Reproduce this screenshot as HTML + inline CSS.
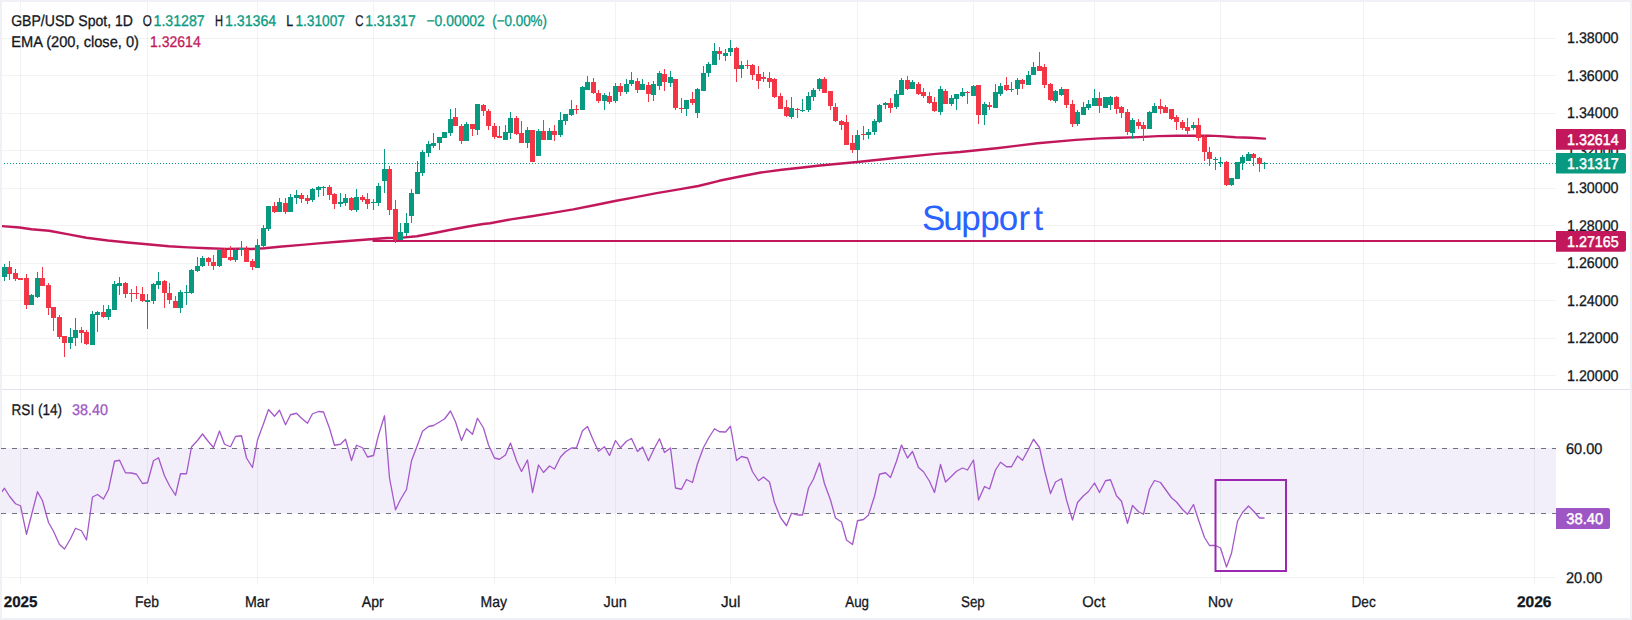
<!DOCTYPE html>
<html lang="en"><head><meta charset="utf-8"><title>GBP/USD Spot, 1D</title>
<style>html,body{margin:0;padding:0;background:#fff}body{width:1632px;height:620px;overflow:hidden}svg{display:block}</style></head>
<body>
<svg width="1632" height="620" viewBox="0 0 1632 620" font-family="'Liberation Sans', sans-serif" font-size="15.5" text-rendering="geometricPrecision">
<rect width="1632" height="620" fill="#eff1f6"/>
<rect x="2" y="2" width="1628" height="616" fill="#ffffff"/>
<rect x="2" y="448" width="1554" height="65.5" fill="#f2eefa"/>
<g fill="#2a2e39" fill-opacity="0.058" shape-rendering="crispEdges">
<rect x="2" y="38" width="1554" height="1"/>
<rect x="2" y="75" width="1554" height="1"/>
<rect x="2" y="113" width="1554" height="1"/>
<rect x="2" y="150" width="1554" height="1"/>
<rect x="2" y="188" width="1554" height="1"/>
<rect x="2" y="225" width="1554" height="1"/>
<rect x="2" y="263" width="1554" height="1"/>
<rect x="2" y="300" width="1554" height="1"/>
<rect x="2" y="338" width="1554" height="1"/>
<rect x="2" y="375" width="1554" height="1"/>
<rect x="2" y="577" width="1554" height="1"/>
<rect x="20" y="2" width="1" height="582"/>
<rect x="147" y="2" width="1" height="582"/>
<rect x="257" y="2" width="1" height="582"/>
<rect x="373" y="2" width="1" height="582"/>
<rect x="494" y="2" width="1" height="582"/>
<rect x="615" y="2" width="1" height="582"/>
<rect x="730" y="2" width="1" height="582"/>
<rect x="857" y="2" width="1" height="582"/>
<rect x="973" y="2" width="1" height="582"/>
<rect x="1094" y="2" width="1" height="582"/>
<rect x="1220" y="2" width="1" height="582"/>
<rect x="1363" y="2" width="1" height="582"/>
<rect x="1534" y="2" width="1" height="582"/>
</g>
<rect x="2" y="389" width="1628" height="1" fill="#e0e3eb" shape-rendering="crispEdges"/>
<line x1="1" y1="448.5" x2="1556" y2="448.5" stroke="#6f727d" stroke-width="1" stroke-dasharray="5 6" shape-rendering="crispEdges"/>
<line x1="1" y1="513.5" x2="1556" y2="513.5" stroke="#6f727d" stroke-width="1" stroke-dasharray="5 6" shape-rendering="crispEdges"/>
<line x1="4" y1="163.5" x2="1556" y2="163.5" stroke="#089981" stroke-width="1" stroke-dasharray="1 2" shape-rendering="crispEdges"/>
<clipPath id="cm"><rect x="2" y="2" width="1554" height="387"/></clipPath>
<polyline clip-path="url(#cm)" fill="none" stroke="#c2185b" stroke-width="2.4" stroke-linejoin="round" stroke-linecap="round" points="2.0,226.1 19.6,227.5 31.4,229.2 49.0,230.7 68.6,234.4 86.3,237.7 107.8,240.5 127.5,242.5 147.0,244.2 168.7,246.2 188.0,247.4 207.4,248.3 226.8,248.9 240.0,248.7 251.8,249.0 264.5,248.3 279.2,246.8 298.8,245.1 318.4,243.4 338.0,241.7 357.6,240.2 377.3,238.7 387.0,238.0 402.3,237.6 416.8,236.3 434.5,233.0 450.6,229.8 466.8,226.8 483.0,224.0 490.0,223.3 510.8,219.4 531.7,216.2 552.5,212.9 573.3,209.4 594.2,205.2 615.0,201.0 635.8,197.1 656.7,193.1 677.5,189.6 698.3,186.0 719.2,180.8 740.0,176.5 760.8,172.5 781.7,169.8 802.5,167.5 820.0,165.5 857.4,162.0 897.4,157.8 936.1,153.9 960.0,152.0 998.7,148.0 1037.4,143.3 1076.1,139.9 1100.0,138.4 1119.4,137.7 1138.7,137.1 1158.0,136.1 1177.4,135.7 1196.8,135.7 1208.4,135.6 1220.0,136.1 1235.5,137.2 1251.0,137.8 1265.0,138.6"/>
<rect x="372.5" y="240" width="1183.5" height="2" fill="#c2185b"/>
<g shape-rendering="crispEdges">
<rect x="4" y="264" width="1" height="17" fill="#089981"/>
<rect x="2" y="267" width="5" height="10" fill="#089981"/>
<rect x="9" y="261" width="1" height="19" fill="#f23645"/>
<rect x="7" y="267" width="5" height="7" fill="#f23645"/>
<rect x="15" y="269" width="1" height="12" fill="#f23645"/>
<rect x="13" y="273" width="5" height="6" fill="#f23645"/>
<rect x="20" y="278" width="1" height="2" fill="#f23645"/>
<rect x="18" y="278" width="5" height="2" fill="#f23645"/>
<rect x="26" y="274" width="1" height="35" fill="#f23645"/>
<rect x="24" y="278" width="5" height="27" fill="#f23645"/>
<rect x="31" y="294" width="1" height="11" fill="#089981"/>
<rect x="29" y="295" width="5" height="10" fill="#089981"/>
<rect x="37" y="272" width="1" height="26" fill="#089981"/>
<rect x="35" y="278" width="5" height="19" fill="#089981"/>
<rect x="42" y="267" width="1" height="19" fill="#f23645"/>
<rect x="40" y="278" width="5" height="8" fill="#f23645"/>
<rect x="48" y="283" width="1" height="32" fill="#f23645"/>
<rect x="46" y="285" width="5" height="23" fill="#f23645"/>
<rect x="53" y="307" width="1" height="24" fill="#f23645"/>
<rect x="51" y="307" width="5" height="11" fill="#f23645"/>
<rect x="59" y="315" width="1" height="24" fill="#f23645"/>
<rect x="57" y="317" width="5" height="20" fill="#f23645"/>
<rect x="64" y="336" width="1" height="21" fill="#f23645"/>
<rect x="62" y="336" width="5" height="7" fill="#f23645"/>
<rect x="70" y="328" width="1" height="21" fill="#089981"/>
<rect x="68" y="337" width="5" height="6" fill="#089981"/>
<rect x="75" y="318" width="1" height="28" fill="#089981"/>
<rect x="73" y="330" width="5" height="8" fill="#089981"/>
<rect x="81" y="327" width="1" height="16" fill="#f23645"/>
<rect x="79" y="330" width="5" height="3" fill="#f23645"/>
<rect x="86" y="330" width="1" height="15" fill="#f23645"/>
<rect x="84" y="332" width="5" height="12" fill="#f23645"/>
<rect x="92" y="311" width="1" height="34" fill="#089981"/>
<rect x="90" y="314" width="5" height="31" fill="#089981"/>
<rect x="97" y="311" width="1" height="21" fill="#089981"/>
<rect x="95" y="312" width="5" height="3" fill="#089981"/>
<rect x="103" y="305" width="1" height="13" fill="#f23645"/>
<rect x="101" y="312" width="5" height="5" fill="#f23645"/>
<rect x="108" y="305" width="1" height="15" fill="#089981"/>
<rect x="106" y="309" width="5" height="8" fill="#089981"/>
<rect x="114" y="281" width="1" height="29" fill="#089981"/>
<rect x="112" y="284" width="5" height="26" fill="#089981"/>
<rect x="119" y="277" width="1" height="18" fill="#089981"/>
<rect x="117" y="283" width="5" height="3" fill="#089981"/>
<rect x="125" y="282" width="1" height="16" fill="#f23645"/>
<rect x="123" y="283" width="5" height="11" fill="#f23645"/>
<rect x="131" y="289" width="1" height="13" fill="#f23645"/>
<rect x="129" y="293" width="5" height="1" fill="#f23645"/>
<rect x="136" y="286" width="1" height="13" fill="#f23645"/>
<rect x="134" y="293" width="5" height="1" fill="#f23645"/>
<rect x="142" y="287" width="1" height="15" fill="#f23645"/>
<rect x="140" y="294" width="5" height="7" fill="#f23645"/>
<rect x="147" y="294" width="1" height="35" fill="#089981"/>
<rect x="145" y="300" width="5" height="2" fill="#089981"/>
<rect x="153" y="283" width="1" height="21" fill="#089981"/>
<rect x="151" y="284" width="5" height="17" fill="#089981"/>
<rect x="158" y="272" width="1" height="17" fill="#089981"/>
<rect x="156" y="281" width="5" height="4" fill="#089981"/>
<rect x="164" y="280" width="1" height="28" fill="#f23645"/>
<rect x="162" y="281" width="5" height="12" fill="#f23645"/>
<rect x="169" y="283" width="1" height="21" fill="#f23645"/>
<rect x="167" y="293" width="5" height="7" fill="#f23645"/>
<rect x="175" y="296" width="1" height="12" fill="#f23645"/>
<rect x="173" y="301" width="5" height="7" fill="#f23645"/>
<rect x="180" y="290" width="1" height="23" fill="#089981"/>
<rect x="178" y="292" width="5" height="16" fill="#089981"/>
<rect x="186" y="285" width="1" height="20" fill="#089981"/>
<rect x="184" y="292" width="5" height="1" fill="#089981"/>
<rect x="191" y="269" width="1" height="25" fill="#089981"/>
<rect x="189" y="270" width="5" height="23" fill="#089981"/>
<rect x="197" y="257" width="1" height="15" fill="#089981"/>
<rect x="195" y="266" width="5" height="5" fill="#089981"/>
<rect x="202" y="256" width="1" height="11" fill="#089981"/>
<rect x="200" y="258" width="5" height="8" fill="#089981"/>
<rect x="208" y="257" width="1" height="9" fill="#f23645"/>
<rect x="206" y="258" width="5" height="4" fill="#f23645"/>
<rect x="213" y="255" width="1" height="15" fill="#f23645"/>
<rect x="211" y="262" width="5" height="4" fill="#f23645"/>
<rect x="219" y="250" width="1" height="17" fill="#089981"/>
<rect x="217" y="250" width="5" height="16" fill="#089981"/>
<rect x="224" y="248" width="1" height="10" fill="#f23645"/>
<rect x="222" y="250" width="5" height="8" fill="#f23645"/>
<rect x="230" y="246" width="1" height="15" fill="#f23645"/>
<rect x="228" y="257" width="5" height="3" fill="#f23645"/>
<rect x="235" y="248" width="1" height="14" fill="#089981"/>
<rect x="233" y="250" width="5" height="10" fill="#089981"/>
<rect x="241" y="241" width="1" height="15" fill="#089981"/>
<rect x="239" y="248" width="5" height="2" fill="#089981"/>
<rect x="246" y="246" width="1" height="16" fill="#f23645"/>
<rect x="244" y="249" width="5" height="13" fill="#f23645"/>
<rect x="252" y="259" width="1" height="11" fill="#f23645"/>
<rect x="250" y="261" width="5" height="6" fill="#f23645"/>
<rect x="257" y="239" width="1" height="29" fill="#089981"/>
<rect x="255" y="245" width="5" height="23" fill="#089981"/>
<rect x="263" y="225" width="1" height="23" fill="#089981"/>
<rect x="261" y="228" width="5" height="18" fill="#089981"/>
<rect x="268" y="206" width="1" height="25" fill="#089981"/>
<rect x="266" y="206" width="5" height="23" fill="#089981"/>
<rect x="274" y="202" width="1" height="11" fill="#f23645"/>
<rect x="272" y="206" width="5" height="6" fill="#f23645"/>
<rect x="279" y="198" width="1" height="14" fill="#089981"/>
<rect x="277" y="202" width="5" height="10" fill="#089981"/>
<rect x="285" y="198" width="1" height="16" fill="#f23645"/>
<rect x="283" y="203" width="5" height="9" fill="#f23645"/>
<rect x="290" y="194" width="1" height="18" fill="#089981"/>
<rect x="288" y="197" width="5" height="15" fill="#089981"/>
<rect x="296" y="190" width="1" height="14" fill="#089981"/>
<rect x="294" y="195" width="5" height="3" fill="#089981"/>
<rect x="301" y="193" width="1" height="10" fill="#f23645"/>
<rect x="299" y="195" width="5" height="4" fill="#f23645"/>
<rect x="307" y="195" width="1" height="9" fill="#f23645"/>
<rect x="305" y="198" width="5" height="3" fill="#f23645"/>
<rect x="312" y="188" width="1" height="14" fill="#089981"/>
<rect x="310" y="189" width="5" height="11" fill="#089981"/>
<rect x="318" y="186" width="1" height="11" fill="#089981"/>
<rect x="316" y="187" width="5" height="3" fill="#089981"/>
<rect x="323" y="186" width="1" height="10" fill="#089981"/>
<rect x="321" y="187" width="5" height="1" fill="#089981"/>
<rect x="329" y="185" width="1" height="15" fill="#f23645"/>
<rect x="327" y="187" width="5" height="8" fill="#f23645"/>
<rect x="334" y="193" width="1" height="16" fill="#f23645"/>
<rect x="332" y="194" width="5" height="10" fill="#f23645"/>
<rect x="340" y="193" width="1" height="14" fill="#089981"/>
<rect x="338" y="202" width="5" height="2" fill="#089981"/>
<rect x="345" y="194" width="1" height="12" fill="#089981"/>
<rect x="343" y="198" width="5" height="5" fill="#089981"/>
<rect x="351" y="197" width="1" height="14" fill="#f23645"/>
<rect x="349" y="198" width="5" height="12" fill="#f23645"/>
<rect x="356" y="189" width="1" height="23" fill="#089981"/>
<rect x="354" y="197" width="5" height="13" fill="#089981"/>
<rect x="362" y="195" width="1" height="7" fill="#f23645"/>
<rect x="360" y="197" width="5" height="3" fill="#f23645"/>
<rect x="367" y="193" width="1" height="16" fill="#f23645"/>
<rect x="365" y="199" width="5" height="5" fill="#f23645"/>
<rect x="373" y="199" width="1" height="11" fill="#089981"/>
<rect x="371" y="202" width="5" height="1" fill="#089981"/>
<rect x="378" y="183" width="1" height="23" fill="#089981"/>
<rect x="376" y="186" width="5" height="17" fill="#089981"/>
<rect x="384" y="149" width="1" height="44" fill="#089981"/>
<rect x="382" y="169" width="5" height="12" fill="#089981"/>
<rect x="389" y="166" width="1" height="49" fill="#f23645"/>
<rect x="387" y="169" width="5" height="41" fill="#f23645"/>
<rect x="395" y="200" width="1" height="43" fill="#f23645"/>
<rect x="393" y="209" width="5" height="31" fill="#f23645"/>
<rect x="400" y="223" width="1" height="17" fill="#089981"/>
<rect x="398" y="232" width="5" height="8" fill="#089981"/>
<rect x="406" y="213" width="1" height="23" fill="#089981"/>
<rect x="404" y="223" width="5" height="10" fill="#089981"/>
<rect x="411" y="189" width="1" height="34" fill="#089981"/>
<rect x="409" y="193" width="5" height="23" fill="#089981"/>
<rect x="417" y="161" width="1" height="33" fill="#089981"/>
<rect x="415" y="172" width="5" height="22" fill="#089981"/>
<rect x="422" y="150" width="1" height="26" fill="#089981"/>
<rect x="420" y="152" width="5" height="21" fill="#089981"/>
<rect x="428" y="141" width="1" height="16" fill="#089981"/>
<rect x="426" y="144" width="5" height="9" fill="#089981"/>
<rect x="433" y="133" width="1" height="15" fill="#089981"/>
<rect x="431" y="143" width="5" height="3" fill="#089981"/>
<rect x="439" y="137" width="1" height="13" fill="#089981"/>
<rect x="437" y="137" width="5" height="6" fill="#089981"/>
<rect x="444" y="132" width="1" height="6" fill="#089981"/>
<rect x="442" y="132" width="5" height="6" fill="#089981"/>
<rect x="450" y="109" width="1" height="27" fill="#089981"/>
<rect x="448" y="119" width="5" height="14" fill="#089981"/>
<rect x="455" y="108" width="1" height="18" fill="#f23645"/>
<rect x="453" y="117" width="5" height="9" fill="#f23645"/>
<rect x="461" y="124" width="1" height="20" fill="#f23645"/>
<rect x="459" y="126" width="5" height="15" fill="#f23645"/>
<rect x="466" y="122" width="1" height="19" fill="#089981"/>
<rect x="464" y="124" width="5" height="17" fill="#089981"/>
<rect x="472" y="124" width="1" height="12" fill="#f23645"/>
<rect x="470" y="124" width="5" height="5" fill="#f23645"/>
<rect x="477" y="104" width="1" height="31" fill="#089981"/>
<rect x="475" y="104" width="5" height="26" fill="#089981"/>
<rect x="483" y="104" width="1" height="12" fill="#f23645"/>
<rect x="481" y="105" width="5" height="6" fill="#f23645"/>
<rect x="488" y="109" width="1" height="21" fill="#f23645"/>
<rect x="486" y="111" width="5" height="15" fill="#f23645"/>
<rect x="494" y="123" width="1" height="16" fill="#f23645"/>
<rect x="492" y="126" width="5" height="11" fill="#f23645"/>
<rect x="499" y="126" width="1" height="12" fill="#f23645"/>
<rect x="497" y="136" width="5" height="2" fill="#f23645"/>
<rect x="505" y="125" width="1" height="15" fill="#089981"/>
<rect x="503" y="132" width="5" height="8" fill="#089981"/>
<rect x="510" y="112" width="1" height="27" fill="#089981"/>
<rect x="508" y="118" width="5" height="15" fill="#089981"/>
<rect x="516" y="116" width="1" height="19" fill="#f23645"/>
<rect x="514" y="118" width="5" height="16" fill="#f23645"/>
<rect x="521" y="121" width="1" height="22" fill="#f23645"/>
<rect x="519" y="133" width="5" height="10" fill="#f23645"/>
<rect x="527" y="127" width="1" height="21" fill="#089981"/>
<rect x="525" y="130" width="5" height="13" fill="#089981"/>
<rect x="532" y="130" width="1" height="32" fill="#f23645"/>
<rect x="530" y="130" width="5" height="32" fill="#f23645"/>
<rect x="538" y="129" width="1" height="27" fill="#089981"/>
<rect x="536" y="131" width="5" height="25" fill="#089981"/>
<rect x="543" y="120" width="1" height="20" fill="#f23645"/>
<rect x="541" y="131" width="5" height="9" fill="#f23645"/>
<rect x="549" y="128" width="1" height="12" fill="#089981"/>
<rect x="547" y="131" width="5" height="9" fill="#089981"/>
<rect x="554" y="125" width="1" height="16" fill="#f23645"/>
<rect x="552" y="131" width="5" height="4" fill="#f23645"/>
<rect x="560" y="112" width="1" height="25" fill="#089981"/>
<rect x="558" y="120" width="5" height="15" fill="#089981"/>
<rect x="565" y="114" width="1" height="11" fill="#089981"/>
<rect x="563" y="114" width="5" height="7" fill="#089981"/>
<rect x="571" y="100" width="1" height="16" fill="#089981"/>
<rect x="569" y="109" width="5" height="6" fill="#089981"/>
<rect x="576" y="105" width="1" height="9" fill="#f23645"/>
<rect x="574" y="109" width="5" height="1" fill="#f23645"/>
<rect x="582" y="86" width="1" height="24" fill="#089981"/>
<rect x="580" y="87" width="5" height="23" fill="#089981"/>
<rect x="587" y="76" width="1" height="14" fill="#089981"/>
<rect x="585" y="82" width="5" height="8" fill="#089981"/>
<rect x="593" y="78" width="1" height="16" fill="#f23645"/>
<rect x="591" y="82" width="5" height="11" fill="#f23645"/>
<rect x="598" y="90" width="1" height="13" fill="#f23645"/>
<rect x="596" y="93" width="5" height="8" fill="#f23645"/>
<rect x="604" y="93" width="1" height="17" fill="#089981"/>
<rect x="602" y="95" width="5" height="6" fill="#089981"/>
<rect x="609" y="92" width="1" height="12" fill="#f23645"/>
<rect x="607" y="96" width="5" height="6" fill="#f23645"/>
<rect x="615" y="83" width="1" height="20" fill="#089981"/>
<rect x="613" y="86" width="5" height="15" fill="#089981"/>
<rect x="620" y="83" width="1" height="13" fill="#f23645"/>
<rect x="618" y="86" width="5" height="6" fill="#f23645"/>
<rect x="626" y="79" width="1" height="15" fill="#089981"/>
<rect x="624" y="84" width="5" height="8" fill="#089981"/>
<rect x="631" y="72" width="1" height="14" fill="#089981"/>
<rect x="629" y="80" width="5" height="4" fill="#089981"/>
<rect x="637" y="78" width="1" height="15" fill="#f23645"/>
<rect x="635" y="81" width="5" height="9" fill="#f23645"/>
<rect x="642" y="79" width="1" height="11" fill="#089981"/>
<rect x="640" y="84" width="5" height="6" fill="#089981"/>
<rect x="648" y="82" width="1" height="20" fill="#f23645"/>
<rect x="646" y="85" width="5" height="9" fill="#f23645"/>
<rect x="653" y="81" width="1" height="20" fill="#089981"/>
<rect x="651" y="84" width="5" height="11" fill="#089981"/>
<rect x="659" y="71" width="1" height="19" fill="#089981"/>
<rect x="657" y="73" width="5" height="13" fill="#089981"/>
<rect x="664" y="69" width="1" height="22" fill="#f23645"/>
<rect x="662" y="74" width="5" height="8" fill="#f23645"/>
<rect x="670" y="71" width="1" height="16" fill="#089981"/>
<rect x="668" y="77" width="5" height="6" fill="#089981"/>
<rect x="675" y="79" width="1" height="31" fill="#f23645"/>
<rect x="673" y="79" width="5" height="29" fill="#f23645"/>
<rect x="681" y="98" width="1" height="15" fill="#f23645"/>
<rect x="679" y="108" width="5" height="1" fill="#f23645"/>
<rect x="686" y="100" width="1" height="16" fill="#089981"/>
<rect x="684" y="100" width="5" height="9" fill="#089981"/>
<rect x="692" y="92" width="1" height="13" fill="#f23645"/>
<rect x="690" y="99" width="5" height="4" fill="#f23645"/>
<rect x="697" y="88" width="1" height="30" fill="#089981"/>
<rect x="695" y="89" width="5" height="24" fill="#089981"/>
<rect x="703" y="66" width="1" height="25" fill="#089981"/>
<rect x="701" y="73" width="5" height="18" fill="#089981"/>
<rect x="708" y="62" width="1" height="15" fill="#089981"/>
<rect x="706" y="64" width="5" height="9" fill="#089981"/>
<rect x="714" y="43" width="1" height="22" fill="#089981"/>
<rect x="712" y="51" width="5" height="14" fill="#089981"/>
<rect x="719" y="47" width="1" height="13" fill="#f23645"/>
<rect x="717" y="51" width="5" height="3" fill="#f23645"/>
<rect x="725" y="49" width="1" height="12" fill="#089981"/>
<rect x="723" y="53" width="5" height="3" fill="#089981"/>
<rect x="730" y="40" width="1" height="16" fill="#089981"/>
<rect x="728" y="48" width="5" height="4" fill="#089981"/>
<rect x="736" y="47" width="1" height="35" fill="#f23645"/>
<rect x="734" y="48" width="5" height="21" fill="#f23645"/>
<rect x="741" y="61" width="1" height="17" fill="#089981"/>
<rect x="739" y="65" width="5" height="4" fill="#089981"/>
<rect x="747" y="60" width="1" height="9" fill="#f23645"/>
<rect x="745" y="65" width="5" height="1" fill="#f23645"/>
<rect x="752" y="64" width="1" height="16" fill="#f23645"/>
<rect x="750" y="65" width="5" height="10" fill="#f23645"/>
<rect x="758" y="66" width="1" height="23" fill="#f23645"/>
<rect x="756" y="74" width="5" height="7" fill="#f23645"/>
<rect x="763" y="72" width="1" height="10" fill="#f23645"/>
<rect x="761" y="77" width="5" height="2" fill="#f23645"/>
<rect x="769" y="72" width="1" height="16" fill="#f23645"/>
<rect x="767" y="78" width="5" height="4" fill="#f23645"/>
<rect x="774" y="78" width="1" height="20" fill="#f23645"/>
<rect x="772" y="79" width="5" height="18" fill="#f23645"/>
<rect x="780" y="93" width="1" height="16" fill="#f23645"/>
<rect x="778" y="96" width="5" height="13" fill="#f23645"/>
<rect x="786" y="100" width="1" height="17" fill="#f23645"/>
<rect x="784" y="107" width="5" height="9" fill="#f23645"/>
<rect x="791" y="97" width="1" height="22" fill="#089981"/>
<rect x="789" y="108" width="5" height="9" fill="#089981"/>
<rect x="797" y="108" width="1" height="10" fill="#f23645"/>
<rect x="795" y="109" width="5" height="1" fill="#f23645"/>
<rect x="802" y="99" width="1" height="13" fill="#089981"/>
<rect x="800" y="110" width="5" height="1" fill="#089981"/>
<rect x="808" y="92" width="1" height="20" fill="#089981"/>
<rect x="806" y="96" width="5" height="14" fill="#089981"/>
<rect x="813" y="88" width="1" height="13" fill="#089981"/>
<rect x="811" y="90" width="5" height="7" fill="#089981"/>
<rect x="819" y="78" width="1" height="13" fill="#089981"/>
<rect x="817" y="79" width="5" height="10" fill="#089981"/>
<rect x="824" y="77" width="1" height="16" fill="#f23645"/>
<rect x="822" y="79" width="5" height="14" fill="#f23645"/>
<rect x="830" y="91" width="1" height="19" fill="#f23645"/>
<rect x="828" y="91" width="5" height="15" fill="#f23645"/>
<rect x="835" y="103" width="1" height="19" fill="#f23645"/>
<rect x="833" y="107" width="5" height="14" fill="#f23645"/>
<rect x="841" y="120" width="1" height="10" fill="#f23645"/>
<rect x="839" y="121" width="5" height="4" fill="#f23645"/>
<rect x="846" y="115" width="1" height="30" fill="#f23645"/>
<rect x="844" y="122" width="5" height="23" fill="#f23645"/>
<rect x="852" y="135" width="1" height="18" fill="#f23645"/>
<rect x="850" y="143" width="5" height="7" fill="#f23645"/>
<rect x="857" y="130" width="1" height="31" fill="#089981"/>
<rect x="855" y="135" width="5" height="15" fill="#089981"/>
<rect x="863" y="126" width="1" height="14" fill="#f23645"/>
<rect x="861" y="134" width="5" height="1" fill="#f23645"/>
<rect x="868" y="129" width="1" height="10" fill="#089981"/>
<rect x="866" y="132" width="5" height="3" fill="#089981"/>
<rect x="874" y="119" width="1" height="16" fill="#089981"/>
<rect x="872" y="121" width="5" height="11" fill="#089981"/>
<rect x="879" y="104" width="1" height="19" fill="#089981"/>
<rect x="877" y="105" width="5" height="17" fill="#089981"/>
<rect x="885" y="102" width="1" height="7" fill="#089981"/>
<rect x="883" y="103" width="5" height="2" fill="#089981"/>
<rect x="890" y="98" width="1" height="15" fill="#f23645"/>
<rect x="888" y="103" width="5" height="5" fill="#f23645"/>
<rect x="896" y="90" width="1" height="19" fill="#089981"/>
<rect x="894" y="94" width="5" height="13" fill="#089981"/>
<rect x="901" y="78" width="1" height="17" fill="#089981"/>
<rect x="899" y="80" width="5" height="15" fill="#089981"/>
<rect x="907" y="76" width="1" height="14" fill="#f23645"/>
<rect x="905" y="80" width="5" height="9" fill="#f23645"/>
<rect x="912" y="80" width="1" height="9" fill="#089981"/>
<rect x="910" y="82" width="5" height="7" fill="#089981"/>
<rect x="918" y="82" width="1" height="13" fill="#f23645"/>
<rect x="916" y="84" width="5" height="10" fill="#f23645"/>
<rect x="923" y="88" width="1" height="10" fill="#f23645"/>
<rect x="921" y="92" width="5" height="4" fill="#f23645"/>
<rect x="929" y="92" width="1" height="12" fill="#f23645"/>
<rect x="927" y="96" width="5" height="7" fill="#f23645"/>
<rect x="934" y="97" width="1" height="15" fill="#f23645"/>
<rect x="932" y="102" width="5" height="9" fill="#f23645"/>
<rect x="940" y="86" width="1" height="29" fill="#089981"/>
<rect x="938" y="89" width="5" height="23" fill="#089981"/>
<rect x="945" y="89" width="1" height="15" fill="#f23645"/>
<rect x="943" y="91" width="5" height="13" fill="#f23645"/>
<rect x="951" y="95" width="1" height="11" fill="#089981"/>
<rect x="949" y="98" width="5" height="6" fill="#089981"/>
<rect x="956" y="94" width="1" height="16" fill="#089981"/>
<rect x="954" y="94" width="5" height="5" fill="#089981"/>
<rect x="962" y="88" width="1" height="9" fill="#089981"/>
<rect x="960" y="92" width="5" height="4" fill="#089981"/>
<rect x="967" y="91" width="1" height="13" fill="#f23645"/>
<rect x="965" y="92" width="5" height="1" fill="#f23645"/>
<rect x="973" y="85" width="1" height="11" fill="#089981"/>
<rect x="971" y="86" width="5" height="10" fill="#089981"/>
<rect x="978" y="85" width="1" height="39" fill="#f23645"/>
<rect x="976" y="85" width="5" height="30" fill="#f23645"/>
<rect x="984" y="102" width="1" height="23" fill="#089981"/>
<rect x="982" y="104" width="5" height="11" fill="#089981"/>
<rect x="989" y="102" width="1" height="8" fill="#f23645"/>
<rect x="987" y="105" width="5" height="2" fill="#f23645"/>
<rect x="995" y="84" width="1" height="24" fill="#089981"/>
<rect x="993" y="92" width="5" height="16" fill="#089981"/>
<rect x="1000" y="83" width="1" height="13" fill="#089981"/>
<rect x="998" y="86" width="5" height="8" fill="#089981"/>
<rect x="1006" y="77" width="1" height="14" fill="#f23645"/>
<rect x="1004" y="85" width="5" height="5" fill="#f23645"/>
<rect x="1011" y="82" width="1" height="10" fill="#089981"/>
<rect x="1009" y="89" width="5" height="1" fill="#089981"/>
<rect x="1017" y="78" width="1" height="17" fill="#089981"/>
<rect x="1015" y="80" width="5" height="9" fill="#089981"/>
<rect x="1022" y="79" width="1" height="10" fill="#f23645"/>
<rect x="1020" y="80" width="5" height="4" fill="#f23645"/>
<rect x="1028" y="71" width="1" height="14" fill="#089981"/>
<rect x="1026" y="75" width="5" height="10" fill="#089981"/>
<rect x="1033" y="62" width="1" height="13" fill="#089981"/>
<rect x="1031" y="67" width="5" height="8" fill="#089981"/>
<rect x="1039" y="52" width="1" height="19" fill="#f23645"/>
<rect x="1037" y="66" width="5" height="5" fill="#f23645"/>
<rect x="1044" y="64" width="1" height="24" fill="#f23645"/>
<rect x="1042" y="67" width="5" height="18" fill="#f23645"/>
<rect x="1050" y="83" width="1" height="18" fill="#f23645"/>
<rect x="1048" y="84" width="5" height="16" fill="#f23645"/>
<rect x="1055" y="90" width="1" height="13" fill="#089981"/>
<rect x="1053" y="91" width="5" height="10" fill="#089981"/>
<rect x="1061" y="87" width="1" height="9" fill="#089981"/>
<rect x="1059" y="89" width="5" height="6" fill="#089981"/>
<rect x="1066" y="89" width="1" height="19" fill="#f23645"/>
<rect x="1064" y="89" width="5" height="16" fill="#f23645"/>
<rect x="1072" y="100" width="1" height="27" fill="#f23645"/>
<rect x="1070" y="104" width="5" height="20" fill="#f23645"/>
<rect x="1077" y="110" width="1" height="16" fill="#089981"/>
<rect x="1075" y="112" width="5" height="12" fill="#089981"/>
<rect x="1083" y="102" width="1" height="13" fill="#089981"/>
<rect x="1081" y="107" width="5" height="8" fill="#089981"/>
<rect x="1088" y="100" width="1" height="10" fill="#089981"/>
<rect x="1086" y="104" width="5" height="4" fill="#089981"/>
<rect x="1094" y="89" width="1" height="17" fill="#089981"/>
<rect x="1092" y="98" width="5" height="8" fill="#089981"/>
<rect x="1099" y="92" width="1" height="21" fill="#f23645"/>
<rect x="1097" y="98" width="5" height="8" fill="#f23645"/>
<rect x="1105" y="97" width="1" height="11" fill="#089981"/>
<rect x="1103" y="97" width="5" height="11" fill="#089981"/>
<rect x="1110" y="96" width="1" height="14" fill="#089981"/>
<rect x="1108" y="97" width="5" height="8" fill="#089981"/>
<rect x="1116" y="96" width="1" height="18" fill="#f23645"/>
<rect x="1114" y="97" width="5" height="12" fill="#f23645"/>
<rect x="1121" y="106" width="1" height="12" fill="#f23645"/>
<rect x="1119" y="107" width="5" height="6" fill="#f23645"/>
<rect x="1127" y="109" width="1" height="26" fill="#f23645"/>
<rect x="1125" y="112" width="5" height="20" fill="#f23645"/>
<rect x="1132" y="118" width="1" height="21" fill="#089981"/>
<rect x="1130" y="120" width="5" height="13" fill="#089981"/>
<rect x="1138" y="119" width="1" height="10" fill="#f23645"/>
<rect x="1136" y="122" width="5" height="4" fill="#f23645"/>
<rect x="1143" y="122" width="1" height="19" fill="#f23645"/>
<rect x="1141" y="125" width="5" height="4" fill="#f23645"/>
<rect x="1149" y="111" width="1" height="18" fill="#089981"/>
<rect x="1147" y="112" width="5" height="17" fill="#089981"/>
<rect x="1154" y="103" width="1" height="10" fill="#089981"/>
<rect x="1152" y="106" width="5" height="7" fill="#089981"/>
<rect x="1160" y="99" width="1" height="15" fill="#f23645"/>
<rect x="1158" y="106" width="5" height="3" fill="#f23645"/>
<rect x="1165" y="105" width="1" height="8" fill="#f23645"/>
<rect x="1163" y="107" width="5" height="6" fill="#f23645"/>
<rect x="1171" y="109" width="1" height="11" fill="#f23645"/>
<rect x="1169" y="109" width="5" height="10" fill="#f23645"/>
<rect x="1176" y="115" width="1" height="15" fill="#f23645"/>
<rect x="1174" y="117" width="5" height="5" fill="#f23645"/>
<rect x="1182" y="120" width="1" height="10" fill="#f23645"/>
<rect x="1180" y="122" width="5" height="6" fill="#f23645"/>
<rect x="1187" y="118" width="1" height="16" fill="#f23645"/>
<rect x="1185" y="127" width="5" height="4" fill="#f23645"/>
<rect x="1193" y="122" width="1" height="8" fill="#089981"/>
<rect x="1191" y="125" width="5" height="3" fill="#089981"/>
<rect x="1198" y="118" width="1" height="23" fill="#f23645"/>
<rect x="1196" y="125" width="5" height="13" fill="#f23645"/>
<rect x="1204" y="135" width="1" height="26" fill="#f23645"/>
<rect x="1202" y="137" width="5" height="15" fill="#f23645"/>
<rect x="1209" y="147" width="1" height="19" fill="#f23645"/>
<rect x="1207" y="152" width="5" height="7" fill="#f23645"/>
<rect x="1215" y="157" width="1" height="13" fill="#089981"/>
<rect x="1213" y="159" width="5" height="1" fill="#089981"/>
<rect x="1220" y="157" width="1" height="10" fill="#089981"/>
<rect x="1218" y="162" width="5" height="1" fill="#089981"/>
<rect x="1226" y="161" width="1" height="25" fill="#f23645"/>
<rect x="1224" y="162" width="5" height="23" fill="#f23645"/>
<rect x="1231" y="178" width="1" height="8" fill="#089981"/>
<rect x="1229" y="178" width="5" height="7" fill="#089981"/>
<rect x="1237" y="162" width="1" height="17" fill="#089981"/>
<rect x="1235" y="162" width="5" height="17" fill="#089981"/>
<rect x="1242" y="155" width="1" height="15" fill="#089981"/>
<rect x="1240" y="157" width="5" height="6" fill="#089981"/>
<rect x="1248" y="152" width="1" height="9" fill="#089981"/>
<rect x="1246" y="154" width="5" height="7" fill="#089981"/>
<rect x="1253" y="153" width="1" height="13" fill="#f23645"/>
<rect x="1251" y="154" width="5" height="4" fill="#f23645"/>
<rect x="1259" y="157" width="1" height="15" fill="#f23645"/>
<rect x="1257" y="158" width="5" height="6" fill="#f23645"/>
<rect x="1264" y="162" width="1" height="7" fill="#089981"/>
<rect x="1262" y="163" width="5" height="1" fill="#089981"/>
</g>
<text x="921.9 943.2 961.2 980.2 998.8 1018.6 1033.4" y="230" font-size="35" fill="#2962ff">Support</text>
<clipPath id="cp"><rect x="2" y="390" width="1554" height="194"/></clipPath>
<polyline clip-path="url(#cp)" fill="none" stroke="#a458c9" stroke-width="1.3" stroke-linejoin="round" points="-1.5,496.25 4.5,488.25 9.5,496.25 15.5,503.75 20.5,505.75 26.5,534.25 31.5,515.00 37.5,491.75 42.5,500.75 48.5,522.50 53.5,531.25 59.5,544.50 64.5,549.00 70.5,538.75 75.5,528.25 81.5,530.75 86.5,540.00 92.5,497.00 97.5,494.50 103.5,499.00 108.5,489.50 114.5,461.25 119.5,460.25 125.5,472.75 131.5,473.00 136.5,474.25 142.5,483.50 147.5,482.75 153.5,460.75 158.5,457.75 164.5,475.75 169.5,485.75 175.5,495.25 180.5,473.75 186.5,473.75 191.5,447.00 197.5,440.50 202.5,434.00 208.5,441.75 213.5,447.50 219.5,431.00 224.5,444.25 230.5,446.75 235.5,436.50 241.5,435.75 246.5,458.00 252.5,467.50 257.5,440.00 263.5,423.75 268.5,409.50 274.5,416.25 279.5,410.25 285.5,424.75 290.5,414.75 296.5,413.25 301.5,418.25 307.5,423.25 312.5,413.75 318.5,411.50 323.5,412.00 329.5,428.25 334.5,445.25 340.5,444.25 345.5,439.25 351.5,460.50 356.5,445.25 362.5,447.75 367.5,457.00 373.5,455.50 378.5,435.00 384.5,415.75 389.5,478.00 395.5,509.75 400.5,499.50 406.5,489.50 411.5,460.75 417.5,445.00 422.5,431.25 428.5,426.50 433.5,425.50 439.5,422.00 444.5,419.00 450.5,411.00 455.5,421.75 461.5,440.50 466.5,428.75 472.5,434.25 477.5,418.25 483.5,428.00 488.5,445.00 494.5,458.00 499.5,459.25 505.5,455.00 510.5,443.00 516.5,460.75 521.5,471.50 527.5,460.00 532.5,492.50 538.5,465.00 543.5,472.50 549.5,466.00 554.5,469.00 560.5,457.00 565.5,451.75 571.5,448.00 576.5,447.75 582.5,430.75 587.5,426.50 593.5,440.75 598.5,451.25 604.5,446.75 609.5,455.50 615.5,440.50 620.5,447.75 626.5,441.25 631.5,438.50 637.5,451.50 642.5,447.00 648.5,460.75 653.5,450.00 659.5,438.75 664.5,452.50 670.5,448.00 675.5,488.00 681.5,489.25 686.5,479.50 692.5,482.50 697.5,463.75 703.5,447.50 708.5,438.25 714.5,428.75 719.5,431.75 725.5,432.00 730.5,426.25 736.5,460.50 741.5,456.50 747.5,458.00 752.5,471.75 758.5,480.75 763.5,477.00 769.5,482.00 774.5,502.50 780.5,517.50 786.5,525.75 791.5,513.25 797.5,515.00 802.5,515.00 808.5,488.00 813.5,479.00 819.5,463.00 824.5,483.75 830.5,500.00 835.5,518.00 841.5,522.00 846.5,540.00 852.5,544.50 857.5,520.75 863.5,519.50 868.5,515.00 874.5,496.25 879.5,474.25 885.5,472.75 890.5,477.50 896.5,461.25 901.5,445.00 907.5,458.00 912.5,451.50 918.5,467.50 923.5,471.75 929.5,481.25 934.5,492.50 940.5,464.50 945.5,482.00 951.5,476.25 956.5,471.25 962.5,468.00 967.5,470.00 973.5,460.00 978.5,500.00 984.5,486.50 989.5,489.00 995.5,470.00 1000.5,462.25 1006.5,466.75 1011.5,466.75 1017.5,456.00 1022.5,460.25 1028.5,449.25 1033.5,439.25 1039.5,447.50 1044.5,470.00 1050.5,493.50 1055.5,482.00 1061.5,478.75 1066.5,500.00 1072.5,520.00 1077.5,502.50 1083.5,495.75 1088.5,491.50 1094.5,483.00 1099.5,492.50 1105.5,480.75 1110.5,479.75 1116.5,495.75 1121.5,501.25 1127.5,523.25 1132.5,505.50 1138.5,511.75 1143.5,514.25 1149.5,489.25 1154.5,480.50 1160.5,482.50 1165.5,489.50 1171.5,497.75 1176.5,502.00 1182.5,509.50 1187.5,514.25 1193.5,504.50 1198.5,520.00 1204.5,537.50 1209.5,545.50 1215.5,545.50 1220.5,548.00 1226.5,567.00 1231.5,553.25 1237.5,521.25 1242.5,512.50 1248.5,506.00 1253.5,511.00 1259.5,518.00 1264.5,518.00"/>
<rect x="1215.5" y="480" width="70.5" height="91" fill="none" stroke="#9c27b0" stroke-width="2"/>
<g fill="#131722" stroke="#131722" stroke-width="0.3">
<text x="1567" y="43.0" textLength="51.5" lengthAdjust="spacingAndGlyphs">1.38000</text>
<text x="1567" y="81.0" textLength="51.5" lengthAdjust="spacingAndGlyphs">1.36000</text>
<text x="1567" y="118.0" textLength="51.5" lengthAdjust="spacingAndGlyphs">1.34000</text>
<text x="1567" y="156.0" textLength="51.5" lengthAdjust="spacingAndGlyphs">1.32000</text>
<text x="1567" y="193.0" textLength="51.5" lengthAdjust="spacingAndGlyphs">1.30000</text>
<text x="1567" y="231.0" textLength="51.5" lengthAdjust="spacingAndGlyphs">1.28000</text>
<text x="1567" y="268.0" textLength="51.5" lengthAdjust="spacingAndGlyphs">1.26000</text>
<text x="1567" y="306.0" textLength="51.5" lengthAdjust="spacingAndGlyphs">1.24000</text>
<text x="1567" y="343.0" textLength="51.5" lengthAdjust="spacingAndGlyphs">1.22000</text>
<text x="1567" y="381.0" textLength="51.5" lengthAdjust="spacingAndGlyphs">1.20000</text>
<text x="1566" y="454" textLength="36.4" lengthAdjust="spacingAndGlyphs">60.00</text>
<text x="1566" y="583" textLength="36.4" lengthAdjust="spacingAndGlyphs">20.00</text>
</g>
<path d="M1556 129H1624Q1626 129 1626 131V147.75Q1626 149.75 1624 149.75H1556Z" fill="#c2185b"/>
<text x="1567" y="145" fill="#fff" stroke="#fff" stroke-width="0.45" textLength="51.7" lengthAdjust="spacingAndGlyphs">1.32614</text>
<path d="M1556 153H1624Q1626 153 1626 155V171.5Q1626 173.5 1624 173.5H1556Z" fill="#089981"/>
<text x="1567" y="169" fill="#fff" stroke="#fff" stroke-width="0.45" textLength="51.7" lengthAdjust="spacingAndGlyphs">1.31317</text>
<path d="M1556 231H1624Q1626 231 1626 233V249.75Q1626 251.75 1624 251.75H1556Z" fill="#c2185b"/>
<text x="1567" y="247" fill="#fff" stroke="#fff" stroke-width="0.45" textLength="51.7" lengthAdjust="spacingAndGlyphs">1.27165</text>
<path d="M1556 508H1608Q1610 508 1610 510V527Q1610 529 1608 529H1556Z" fill="#9d56c3"/>
<text x="1566.2" y="524" fill="#fff" stroke="#fff" stroke-width="0.45" textLength="37" lengthAdjust="spacingAndGlyphs">38.40</text>
<text x="3.75" y="607" fill="#131722" stroke="#131722" stroke-width="0.3" textLength="33.75" lengthAdjust="spacingAndGlyphs" font-weight="bold">2025</text>
<text x="135" y="607" fill="#131722" stroke="#131722" stroke-width="0.3" textLength="24" lengthAdjust="spacingAndGlyphs">Feb</text>
<text x="245" y="607" fill="#131722" stroke="#131722" stroke-width="0.3" textLength="24.5" lengthAdjust="spacingAndGlyphs">Mar</text>
<text x="361.75" y="607" fill="#131722" stroke="#131722" stroke-width="0.3" textLength="22" lengthAdjust="spacingAndGlyphs">Apr</text>
<text x="480.5" y="607" fill="#131722" stroke="#131722" stroke-width="0.3" textLength="26.5" lengthAdjust="spacingAndGlyphs">May</text>
<text x="603.5" y="607" fill="#131722" stroke="#131722" stroke-width="0.3" textLength="23.25" lengthAdjust="spacingAndGlyphs">Jun</text>
<text x="721" y="607" fill="#131722" stroke="#131722" stroke-width="0.3" textLength="19.5" lengthAdjust="spacingAndGlyphs">Jul</text>
<text x="845.25" y="607" fill="#131722" stroke="#131722" stroke-width="0.3" textLength="23.75" lengthAdjust="spacingAndGlyphs">Aug</text>
<text x="961" y="607" fill="#131722" stroke="#131722" stroke-width="0.3" textLength="23.75" lengthAdjust="spacingAndGlyphs">Sep</text>
<text x="1082.25" y="607" fill="#131722" stroke="#131722" stroke-width="0.3" textLength="23" lengthAdjust="spacingAndGlyphs">Oct</text>
<text x="1208" y="607" fill="#131722" stroke="#131722" stroke-width="0.3" textLength="24.75" lengthAdjust="spacingAndGlyphs">Nov</text>
<text x="1351.5" y="607" fill="#131722" stroke="#131722" stroke-width="0.3" textLength="24.25" lengthAdjust="spacingAndGlyphs">Dec</text>
<text x="1517" y="607" fill="#131722" stroke="#131722" stroke-width="0.3" textLength="34.5" lengthAdjust="spacingAndGlyphs" font-weight="bold">2026</text>
<text x="11.2" y="26" fill="#131722" stroke="#131722" stroke-width="0.3" textLength="121.8" lengthAdjust="spacingAndGlyphs">GBP/USD Spot, 1D</text>
<text x="142.7" y="26" fill="#131722" stroke="#131722" stroke-width="0.3" textLength="9.1" lengthAdjust="spacingAndGlyphs">O</text>
<text x="153.5" y="26" fill="#089981" stroke="#089981" stroke-width="0.3" textLength="51.2" lengthAdjust="spacingAndGlyphs">1.31287</text>
<text x="215" y="26" fill="#131722" stroke="#131722" stroke-width="0.3" textLength="8" lengthAdjust="spacingAndGlyphs">H</text>
<text x="225" y="26" fill="#089981" stroke="#089981" stroke-width="0.3" textLength="51.2" lengthAdjust="spacingAndGlyphs">1.31364</text>
<text x="286.3" y="26" fill="#131722" stroke="#131722" stroke-width="0.3" textLength="6.9" lengthAdjust="spacingAndGlyphs">L</text>
<text x="295.4" y="26" fill="#089981" stroke="#089981" stroke-width="0.3" textLength="49.6" lengthAdjust="spacingAndGlyphs">1.31007</text>
<text x="355.3" y="26" fill="#131722" stroke="#131722" stroke-width="0.3" textLength="8.2" lengthAdjust="spacingAndGlyphs">C</text>
<text x="365.2" y="26" fill="#089981" stroke="#089981" stroke-width="0.3" textLength="50.6" lengthAdjust="spacingAndGlyphs">1.31317</text>
<text x="426.5" y="26" fill="#089981" stroke="#089981" stroke-width="0.3" textLength="58.3" lengthAdjust="spacingAndGlyphs">−0.00002</text>
<text x="492.2" y="26" fill="#089981" stroke="#089981" stroke-width="0.3" textLength="54.8" lengthAdjust="spacingAndGlyphs">(−0.00%)</text>
<text x="11.2" y="47" fill="#131722" stroke="#131722" stroke-width="0.3" textLength="127.8" lengthAdjust="spacingAndGlyphs">EMA (200, close, 0)</text>
<text x="150" y="47" fill="#c2185b" stroke="#c2185b" stroke-width="0.3" textLength="50.7" lengthAdjust="spacingAndGlyphs">1.32614</text>
<text x="11.6" y="415" fill="#131722" stroke="#131722" stroke-width="0.3" textLength="50.4" lengthAdjust="spacingAndGlyphs">RSI (14)</text>
<text x="72" y="415" fill="#9d56c3" stroke="#9d56c3" stroke-width="0.3" textLength="36" lengthAdjust="spacingAndGlyphs">38.40</text>
</svg>
</body></html>
